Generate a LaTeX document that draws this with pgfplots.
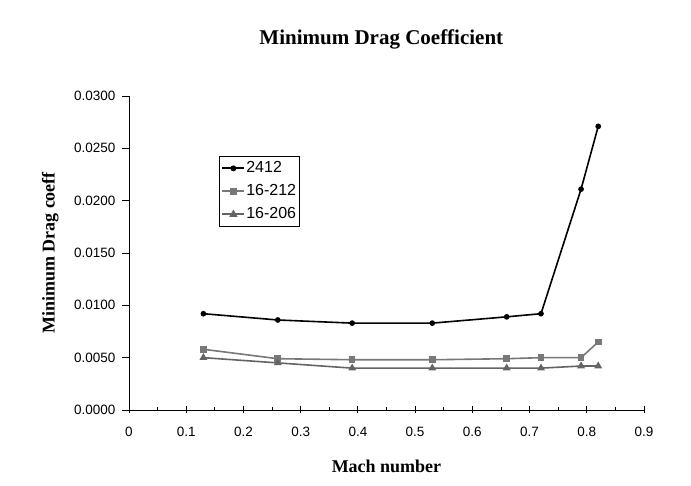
\documentclass[border=0pt]{standalone}
\usepackage{fontspec}
\setmainfont{Liberation Serif}
\setsansfont{Liberation Sans}
\usepackage{pgfplots}
\pgfplotsset{compat=1.18}
\definecolor{sgray}{RGB}{120,120,120}
\definecolor{tgray}{RGB}{100,100,100}
\begin{document}
\begin{tikzpicture}
\path[use as bounding box] (0,0) rectangle (691pt,486pt);
\begin{axis}[
  at={(129pt,76pt)}, anchor=origin,
  scale only axis, width=515pt, height=314pt,
  xmin=0, xmax=0.9, ymin=0, ymax=0.03,
  scaled y ticks=false, scaled x ticks=false,
  axis x line=bottom, axis y line=left,
  axis line style={-, line width=0.8pt},
  xtick={0,0.1,...,0.9}, minor x tick num=1,
  ytick={0,0.005,0.01,0.015,0.02,0.025,0.03},
  xticklabels={0,0.1,0.2,0.3,0.4,0.5,0.6,0.7,0.8,0.9},
  yticklabels={0.0000,0.0050,0.0100,0.0150,0.0200,0.0250,0.0300},
  x tick label style={font=\sffamily\fontsize{13.5}{16}\selectfont, yshift=-10pt},
  y tick label style={font=\sffamily\fontsize{13.5}{16}\selectfont, xshift=-3pt},
  xtick align=center, ytick align=outside,
  major tick length=7pt, minor tick length=3pt,
  tick style={black, line width=0.8pt},
  every minor tick/.style={yshift=1.5pt},
  title={Minimum Drag Coefficient},
  title style={font=\bfseries\fontsize{21}{24}\selectfont, at={(rel axis cs:0.49,1.162)}, anchor=center},
  xlabel={Mach number},
  ylabel={Minimum Drag coeff},
  xlabel style={font=\bfseries\fontsize{18}{21}\selectfont, at={(rel axis cs:0.5,-0.178)}, anchor=center},
  ylabel style={font=\bfseries\fontsize{18}{21}\selectfont, at={(rel axis cs:-0.153,0.5)}, anchor=center, rotate=0},
  legend style={at={(rel axis cs:0.175,0.809)}, anchor=north west, draw=black, line width=0.8pt,
    font=\sffamily\fontsize{16}{18}\selectfont, row sep=5pt, inner xsep=2pt, inner ysep=3pt,
    nodes={inner xsep=1pt, inner ysep=2pt, text height=11pt, text depth=3pt}},
  legend cell align=left,
  legend image code/.code={
    \draw[mark repeat=2, mark phase=2, #1, line width=1.8pt] plot coordinates {(0pt,0pt) (11pt,0pt) (22pt,0pt)};},
  clip=false,
]
\addplot[black, line width=1.6pt, mark=*, mark size=2pt] coordinates {
(0.13,0.0092) (0.26,0.0086) (0.39,0.0083) (0.53,0.0083) (0.66,0.0089) (0.72,0.0092) (0.79,0.0211) (0.82,0.0271)};
\addlegendentry{2412}
\addplot[sgray, line width=1.6pt, mark=square*, mark size=2.5pt] coordinates {
(0.13,0.0058) (0.26,0.0049) (0.39,0.0048) (0.53,0.0048) (0.66,0.0049) (0.72,0.0050) (0.79,0.0050) (0.82,0.0065)};
\addlegendentry{16-212}
\addplot[tgray, line width=1.6pt, mark=triangle*, mark size=3pt] coordinates {
(0.13,0.0050) (0.26,0.0045) (0.39,0.0040) (0.53,0.0040) (0.66,0.0040) (0.72,0.0040) (0.79,0.0042) (0.82,0.0042)};
\addlegendentry{16-206}
\end{axis}
\end{tikzpicture}
\end{document}
